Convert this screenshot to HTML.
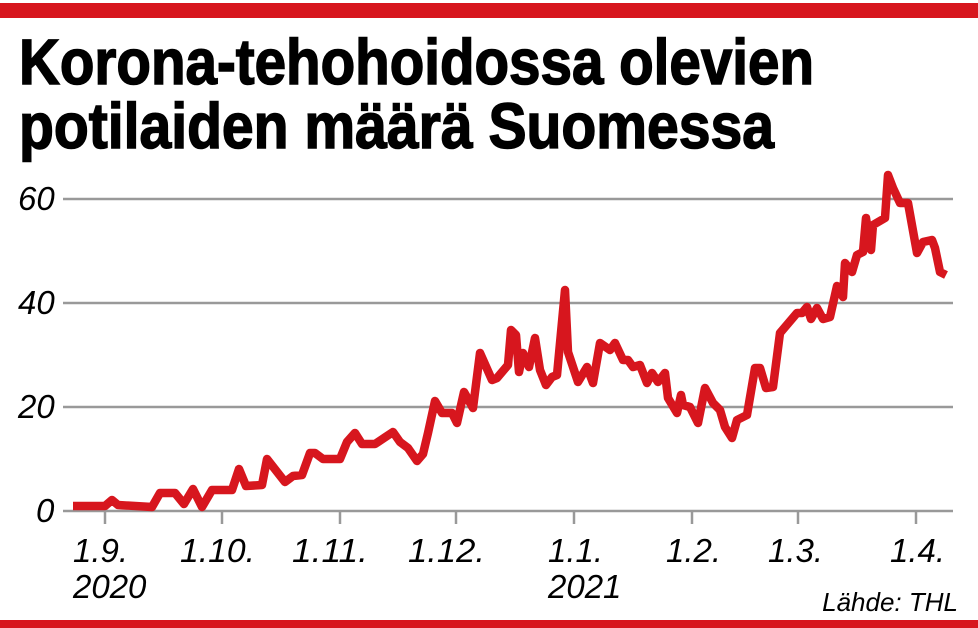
<!DOCTYPE html>
<html><head><meta charset="utf-8"><style>
html,body{margin:0;padding:0;background:#fff;}
svg{display:block}
</style></head><body>
<svg width="978" height="628" viewBox="0 0 978 628" xmlns="http://www.w3.org/2000/svg">
<rect x="0" y="3" width="978" height="15" fill="#d7161e"/>
<rect x="0" y="620" width="978" height="8" fill="#d7161e"/>
<g font-family="'Liberation Sans Narrow','Liberation Sans',sans-serif" font-weight="bold" font-size="64" fill="#000" stroke="#000" stroke-width="1.5">
<text x="19" y="84" textLength="795" lengthAdjust="spacingAndGlyphs">Korona-tehohoidossa olevien</text>
<text x="19" y="148" textLength="755" lengthAdjust="spacingAndGlyphs">potilaiden määrä Suomessa</text>
</g>
<g stroke="#999" stroke-width="2.5">
<line x1="63" y1="199" x2="953" y2="199"/>
<line x1="63" y1="303" x2="953" y2="303"/>
<line x1="63" y1="407" x2="953" y2="407"/>
<line x1="63" y1="511" x2="953" y2="511"/>
<line x1="105" y1="511" x2="105" y2="524"/>
<line x1="222" y1="511" x2="222" y2="524"/>
<line x1="340" y1="511" x2="340" y2="524"/>
<line x1="456" y1="511" x2="456" y2="524"/>
<line x1="574" y1="511" x2="574" y2="524"/>
<line x1="692" y1="511" x2="692" y2="524"/>
<line x1="798" y1="511" x2="798" y2="524"/>
<line x1="916" y1="511" x2="916" y2="524"/>
</g>
<g font-family="'Liberation Sans Narrow','Liberation Sans',sans-serif" font-style="italic" font-size="33" fill="#000">
<text x="18" y="210">60</text>
<text x="18" y="314">40</text>
<text x="18" y="418">20</text>
<text x="36" y="522">0</text>
<text x="73" y="562">1.9.</text>
<text x="73" y="598">2020</text>
<text x="180" y="562" textLength="75" lengthAdjust="spacingAndGlyphs">1.10.</text>
<text x="292" y="562" textLength="76" lengthAdjust="spacingAndGlyphs">1.11.</text>
<text x="408" y="562" textLength="77" lengthAdjust="spacingAndGlyphs">1.12.</text>
<text x="548" y="562">1.1.</text>
<text x="548" y="598">2021</text>
<text x="666" y="562">1.2.</text>
<text x="768" y="562">1.3.</text>
<text x="890" y="562">1.4.</text>
<text x="958" y="611" font-size="26" text-anchor="end">Lähde: THL</text>
</g>
<polyline fill="none" stroke="#d7161e" stroke-width="8.5" stroke-linejoin="round" stroke-linecap="butt" points="
73,506 105,506 112,500 118,505 152,507 160,493 175,493 184,504 193,489 202,507 212,490 232,490 239,469 246,486 262,485 267,459 285,482 293,476 302,475 310,453 315,453 323,459 340,459 347,442 355,433 362,444 375,444 393,432 400,442 408,448 417,461 423,454 428,433 435,401 442,413 452,413 457,423 464,392 473,408 480,353 492,380 497,378 508,365 511,330 516,335 519,372 523,353 529,367 535,338 540,370 546,385 552,377 557,375 565,290 568,352 578,382 587,367 593,383 600,343 610,350 615,343 623,360 628,360 633,367 640,365 647,383 652,373 658,382 665,373 668,398 677,413 681,395 683,405 690,407 698,423 705,388 713,403 720,410 725,427 732,438 737,420 747,415 755,368 760,368 766,388 773,387 780,333 797,313 802,313 807,307 811,319 817,308 823,319 830,317 837,286 843,297 845,263 852,272 857,255 863,252 866,218 871,250 873,225 885,218 888,175 893,188 900,203 908,203 917,253 923,242 932,240 935,248 940,272 946,275"/>
</svg>
</body></html>
